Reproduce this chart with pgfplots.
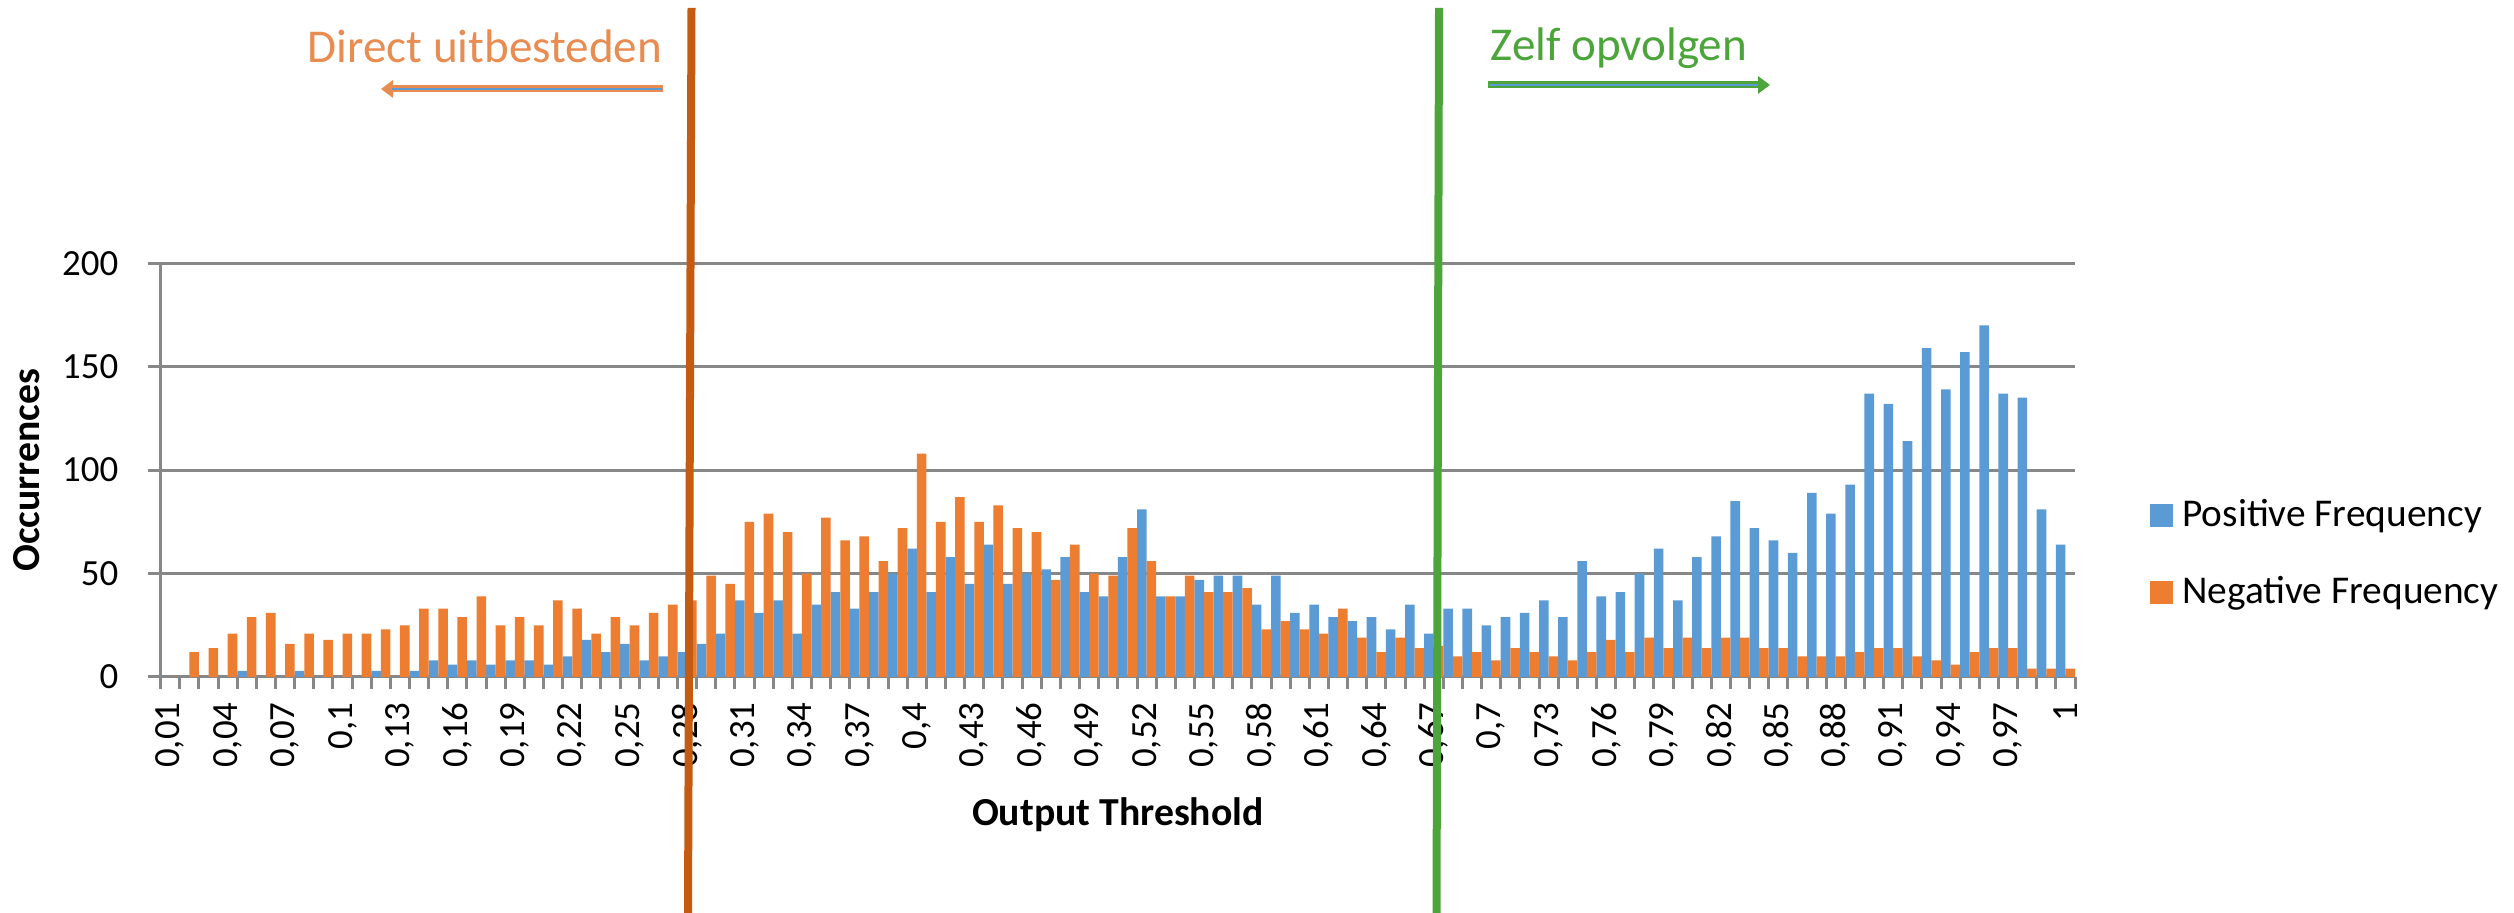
\documentclass[border=0pt]{standalone}
\usepackage{fontspec}
\setmainfont{Carlito}
\usepackage{pgfplots}
\pgfplotsset{compat=1.18}
\usepackage{pgfplotstable}
\usetikzlibrary{arrows.meta}

\definecolor{posblue}{HTML}{5B9BD5}
\definecolor{negorange}{HTML}{ED7D31}
\definecolor{gridgray}{HTML}{878787}
\definecolor{cutbrown}{HTML}{C55A11}
\definecolor{cutgreen}{HTML}{4CA53A}
\definecolor{txtorange}{HTML}{E98C52}

% threshold index (0.01 -> 1, ..., 1 -> 100), positive, negative
\pgfplotstableread{
idx pos neg
1 0 0
2 0 12
3 0 14
4 0 21
5 3 29
6 0 31
7 0 16
8 3 21
9 0 18
10 0 21
11 0 21
12 3 23
13 0 25
14 3 33
15 8 33
16 6 29
17 8 39
18 6 25
19 8 29
20 8 25
21 6 37
22 10 33
23 18 21
24 12 29
25 16 25
26 8 31
27 10 35
28 12 37
29 16 49
30 21 45
31 37 75
32 31 79
33 37 70
34 21 50
35 35 77
36 41 66
37 33 68
38 41 56
39 50 72
40 62 108
41 41 75
42 58 87
43 45 75
44 64 83
45 45 72
46 50 70
47 52 47
48 58 64
49 41 50
50 39 49
51 58 72
52 81 56
53 39 39
54 39 49
55 47 41
56 49 41
57 49 43
58 35 23
59 49 27
60 31 23
61 35 21
62 29 33
63 27 19
64 29 12
65 23 19
66 35 14
67 21 15
68 33 10
69 33 12
70 25 8
71 29 14
72 31 12
73 37 10
74 29 8
75 56 12
76 39 18
77 41 12
78 50 19
79 62 14
80 37 19
81 58 14
82 68 19
83 85 19
84 72 14
85 66 14
86 60 10
87 89 10
88 79 10
89 93 12
90 137 14
91 132 14
92 114 10
93 159 8
94 139 6
95 157 12
96 170 14
97 137 14
98 135 4
99 81 4
100 64 4
}\freq

\begin{document}
\begin{tikzpicture}
\useasboundingbox (0,0) rectangle (25.14,9.13);
\begin{axis}[
    at={(1.607cm,2.36cm)}, anchor=south west,
    scale only axis,
    width=19.143cm, height=4.137cm,
    ybar=0pt, bar width=0.5,
    xmin=0.5, xmax=100.5,
    ymin=0, ymax=200,
    ytick={0,50,...,200},
    xtick={1,4,...,100},
    xticklabels={{0,01},{0,04},{0,07},{0,1},{0,13},{0,16},{0,19},{0,22},{0,25},{0,28},{0,31},{0,34},{0,37},{0,4},{0,43},{0,46},{0,49},{0,52},{0,55},{0,58},{0,61},{0,64},{0,67},{0,7},{0,73},{0,76},{0,79},{0,82},{0,85},{0,88},{0,91},{0,94},{0,97},{1}},
    minor xtick={0.5,1.5,...,100.5},
    axis x line*=bottom, axis y line*=left,
    axis line style={draw=gridgray, line width=0.03cm, -},
    tick align=outside,
    xtick pos=bottom, ytick pos=left,
    major tick length=0.13cm, minor tick length=0.12cm,
    major x tick style={draw=none},
    minor x tick style={draw=gridgray, line width=0.03cm},
    major y tick style={draw=gridgray, line width=0.03cm},
    ymajorgrids, grid style={draw=gridgray, line width=0.03cm},
    scaled ticks=false,
    /pgf/number format/assume math mode=true,
    tick label style={font=\fontsize{10.5}{12}\selectfont},
    xticklabel style={rotate=90, anchor=east},
    yticklabel style={xshift=-0.17cm},
    xlabel={Output Threshold},
    ylabel={Occurrences},
    label style={font=\fontsize{11.3}{13}\selectfont\bfseries},
    xlabel style={at={(axis description cs:0.5,-0.3336)}, anchor=center},
    ylabel style={at={(axis description cs:-0.0698,0.5)}, anchor=center},
    legend cell align=left,
    legend style={at={(axis description cs:1.0387,0.297)}, anchor=west,
        draw=none, fill=none, inner sep=0pt, row sep=0.45cm, column sep=0.09cm,
        font=\fontsize{11.2}{13}\selectfont, nodes={inner sep=0pt}},
]
\addplot[fill=posblue, draw=none,
    legend image code/.code={\fill[posblue] (0cm,-0.115cm) rectangle (0.235cm,0.115cm);}]
    table[x=idx, y=pos] {\freq};
\addplot[fill=negorange, draw=none,
    legend image code/.code={\fill[negorange] (0cm,-0.115cm) rectangle (0.235cm,0.115cm);}]
    table[x=idx, y=neg] {\freq};
\legend{Positive Frequency, Negative Frequency}
\end{axis}

% cut-off lines and their notes
\draw[cutbrown, line width=0.08cm] (6.915,9.05) -- (6.88,0);
\draw[cutgreen, line width=0.08cm] (14.39,9.05) -- (14.365,0);

\node[anchor=base west, inner sep=0pt, text=txtorange, font=\fontsize{13.4}{16}\selectfont] at (3.07,8.50) {Direct uitbesteden};
\draw[txtorange, line width=0.07cm, -{Triangle[length=0.12cm, width=0.17cm]}] (6.63,8.24) -- (3.81,8.24);
\draw[posblue, line width=0.02cm] (6.62,8.24) -- (3.92,8.24);

\node[anchor=base west, inner sep=0pt, text=cutgreen, font=\fontsize{13.4}{16}\selectfont] at (14.90,8.52) {Zelf opvolgen};
\draw[cutgreen, line width=0.07cm, -{Triangle[length=0.12cm, width=0.17cm]}] (14.88,8.28) -- (17.70,8.28);
\draw[posblue, line width=0.02cm] (14.89,8.28) -- (17.58,8.28);
\end{tikzpicture}
\end{document}
